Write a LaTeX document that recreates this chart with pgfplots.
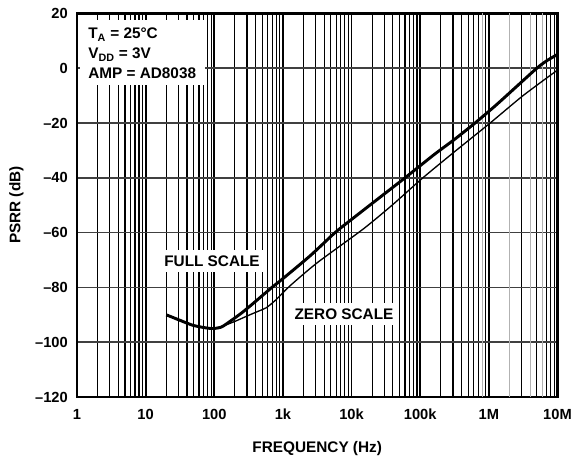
\documentclass[border=0pt]{standalone}
\usepackage{fontspec}
\setmainfont{Liberation Sans}
\usepackage{pgfplots}
\pgfplotsset{compat=1.18}
\begin{document}
\begin{tikzpicture}
\begin{axis}[
 scale only axis, width=360.4pt, height=287.8pt,
 xmode=log, log basis x=10,
 xmin=1, xmax=1e7, ymin=-120, ymax=20,
 xtick={1,10,100,1000,10000,100000,1000000,10000000},
 xticklabels={1,10,100,1k,10k,100k,1M,10M},
 minor xtick={2,3,4,5,6,7,8,9,20,30,40,50,60,70,80,90,200,300,400,500,600,700,800,900,2000,3000,4000,5000,6000,7000,8000,9000,20000,30000,40000,50000,60000,70000,80000,90000,200000,300000,400000,500000,600000,700000,800000,900000,2000000,3000000,4000000,5000000,6000000,7000000,8000000,9000000},
 ytick={-120,-100,-80,-60,-40,-20,0,20},
 yticklabels={--120,--100,--80,--60,--40,--20,0,20},
 major tick length=0pt, minor tick length=0pt,
 xmajorgrids, xminorgrids, ymajorgrids,
 major x grid style={black, line width=1.4pt},
 minor x grid style={black, line width=0.85pt},
 major y grid style={black!75, line width=1.1pt},
 axis line style={line width=1.8pt},
 ticklabel style={font=\fontsize{11}{13}\selectfont\bfseries},
 xticklabel style={anchor=base, inner sep=0pt, yshift=-16.5pt},
 yticklabel style={anchor=east, inner sep=0pt, xshift=-6.75pt},
 xlabel={FREQUENCY (Hz)}, ylabel={PSRR (dB)},
 label style={font=\fontsize{11.5}{14}\selectfont\bfseries},
 xlabel style={at={(axis description cs:0.5,-0.1433)}, anchor=base},
 ylabel style={at={(axis description cs:-0.126,0.5)}, anchor=center},
]
\foreach \g in {800000,2000000,4000000,6000000}{
  \edef\tmp{\noexpand\draw[black!30, line width=0.85pt] (axis cs:\g,-120) -- (axis cs:\g,20);}\tmp
}
% ZERO SCALE (thin)
\addplot[black, line width=1pt, smooth, tension=0.4] coordinates {
 (20,-90) (31.6,-92) (50,-93.9) (89,-95) (126,-94.3) (200,-92.4) (316,-90.2)
 (447,-88.6) (575,-87.4) (794,-84.5) (1259,-79.5) (3162,-71) (14791,-58.7)
 (39811,-49.8) (109648,-40) (316228,-30.5) (1047129,-20) (3162278,-10) (10000000,-0.7)
};
% FULL SCALE (thick)
\addplot[black, line width=2.2pt, smooth, tension=0.4] coordinates {
 (20,-90) (31.6,-92) (50,-93.9) (89,-95) (126,-94.5) (174,-92.2) (251,-89.3)
 (355,-86.2) (501,-83) (692,-80) (1000,-76.8) (2512,-68.4) (5754,-60) (10000,-55.2)
 (25119,-47.4) (60256,-40) (158489,-31.6) (316228,-26) (630957,-20) (1258925,-13.6)
 (2511886,-6.8) (5011872,0) (7079458,2.8) (10000000,5)
};
\fill[white] (rel axis cs:0.006,0.813) rectangle (rel axis cs:0.266,0.983);
\node[anchor=north west, align=left, inner sep=0pt, font=\fontsize{11.5}{15}\selectfont\bfseries]
  at (rel axis cs:0.023,0.962) {T\textsubscript{A} = 25°C\\V\textsubscript{DD} = 3V\\AMP = AD8038};
\node[fill=white, inner sep=4pt, font=\fontsize{11.5}{14}\selectfont\bfseries] at (axis cs:92.7,-70.4) {FULL SCALE};
\node[fill=white, inner sep=4pt, font=\fontsize{11.5}{14}\selectfont\bfseries] at (axis cs:7762,-89.7) {ZERO SCALE};
\coordinate (bl) at (rel axis cs:0,0);
\coordinate (tr) at (rel axis cs:1,1);
\end{axis}
\pgfresetboundingbox
\path ([shift={(-57.75pt,-47.25pt)}]bl) rectangle ([shift={(10.9pt,10pt)}]tr);
\end{tikzpicture}
\end{document}
